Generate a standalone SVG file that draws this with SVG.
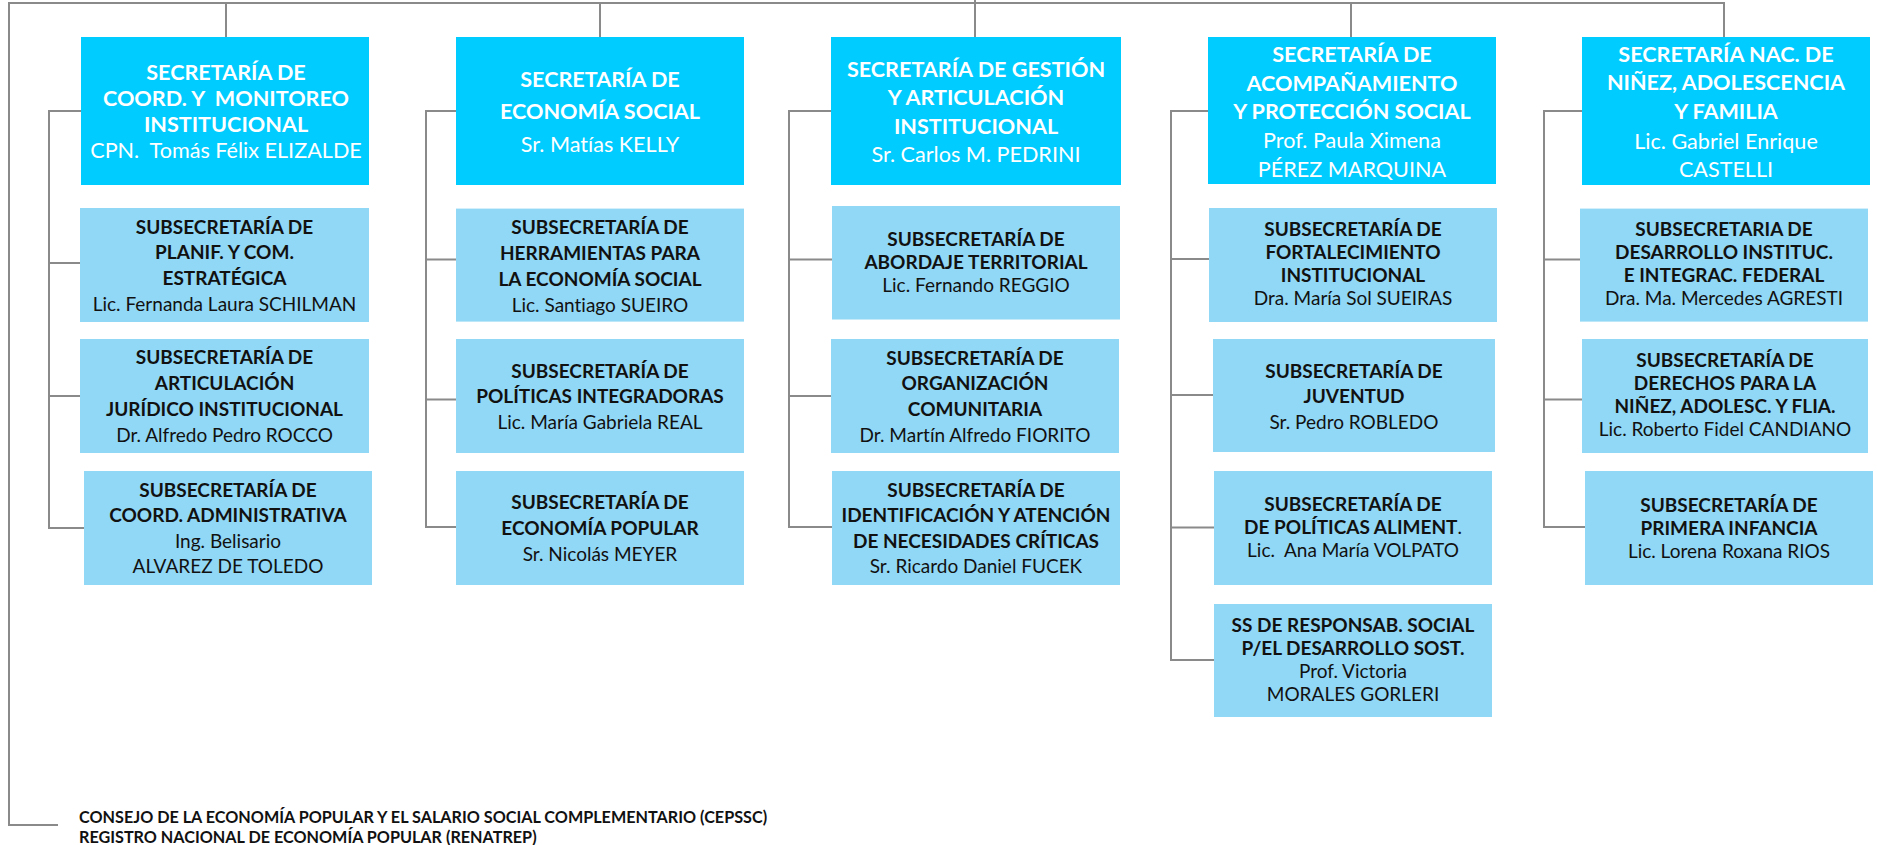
<svg xmlns="http://www.w3.org/2000/svg" width="1877" height="845" viewBox="0 0 1877 845">
<style>
  .bg{fill:#ffffff}
  .sec rect{fill:#00CCFF}
  .sub rect{fill:#91D8F6}
  text{font-family:Lato,"Liberation Sans",sans-serif;text-anchor:middle;white-space:pre;font-variant-ligatures:none;font-feature-settings:"liga" 0,"clig" 0}
  .sec text{fill:#ffffff;font-size:21.6px}
  .sub text{fill:#111111;font-size:19px}
  .b{font-weight:bold}
  .n{font-weight:normal}
  .conn path{fill:none;stroke:#8a8a8a;stroke-width:2}
  .foot text{fill:#111111;font-size:16.2px;font-weight:bold;text-anchor:start}
</style>
<rect class="bg" x="0" y="0" width="1877" height="845"/>

<g id="connectors" class="conn">
  <path d="M58 825 H9 V3 H1724 V37"/>
  <path d="M975 0 V37"/>
  <path d="M226 3 V37"/>
  <path d="M600 3 V37"/>
  <path d="M1351 3 V37"/>
  <path d="M81 111 H49 V528 H84 M49 263 H80 M49 396 H80"/>
  <path d="M456 111 H426 V527 H456 M426 259.5 H456 M426 399.5 H456"/>
  <path d="M831 111 H789 V527 H832 M789 259.5 H832 M789 396 H831"/>
  <path d="M1208 111 H1171 V660 H1214 M1171 259 H1209 M1171 395 H1213 M1171 527.5 H1214"/>
  <path d="M1582 111 H1544 V527 H1585 M1544 259.5 H1580 M1544 399.5 H1582"/>
</g>

<!-- Column 1 -->
<g id="sec-coord" class="sec">
  <rect x="81" y="37" width="288" height="148"/>
  <text x="226" y="80" class="b">SECRETARÍA DE</text>
  <text x="226" y="106" class="b">COORD. Y  MONITOREO</text>
  <text x="226" y="132" class="b">INSTITUCIONAL</text>
  <text x="226" y="158" class="n">CPN.  Tomás Félix ELIZALDE</text>
</g>
<g id="sub-planif" class="sub">
  <rect x="80" y="208" width="289" height="114"/>
  <text x="224.5" y="233.5" class="b">SUBSECRETARÍA DE</text>
  <text x="224.5" y="259.3" class="b">PLANIF. Y COM.</text>
  <text x="224.5" y="285" class="b">ESTRATÉGICA</text>
  <text x="224.5" y="311" class="n">Lic. Fernanda Laura SCHILMAN</text>
</g>
<g id="sub-articulacion" class="sub">
  <rect x="80" y="339" width="289" height="114"/>
  <text x="224.5" y="364" class="b">SUBSECRETARÍA DE</text>
  <text x="224.5" y="390" class="b">ARTICULACIÓN</text>
  <text x="224.5" y="416" class="b">JURÍDICO INSTITUCIONAL</text>
  <text x="224.5" y="442" class="n">Dr. Alfredo Pedro ROCCO</text>
</g>
<g id="sub-coord-adm" class="sub">
  <rect x="84" y="471" width="288" height="114"/>
  <text x="228" y="497" class="b">SUBSECRETARÍA DE</text>
  <text x="228" y="522" class="b">COORD. ADMINISTRATIVA</text>
  <text x="228" y="548" class="n">Ing. Belisario</text>
  <text x="228" y="573" class="n">ALVAREZ DE TOLEDO</text>
</g>

<!-- Column 2 -->
<g id="sec-economia" class="sec">
  <rect x="456" y="37" width="288" height="148"/>
  <text x="600" y="87" class="b">SECRETARÍA DE</text>
  <text x="600" y="119" class="b">ECONOMÍA SOCIAL</text>
  <text x="600" y="151.7" class="n">Sr. Matías KELLY</text>
</g>
<g id="sub-herramientas" class="sub">
  <rect x="456" y="208.6" width="288" height="113"/>
  <text x="600" y="234" class="b">SUBSECRETARÍA DE</text>
  <text x="600" y="260" class="b">HERRAMIENTAS PARA</text>
  <text x="600" y="285.5" class="b">LA ECONOMÍA SOCIAL</text>
  <text x="600" y="311.5" class="n">Lic. Santiago SUEIRO</text>
</g>
<g id="sub-politicas" class="sub">
  <rect x="456" y="339" width="288" height="114"/>
  <text x="600" y="378" class="b">SUBSECRETARÍA DE</text>
  <text x="600" y="403" class="b">POLÍTICAS INTEGRADORAS</text>
  <text x="600" y="429" class="n">Lic. María Gabriela REAL</text>
</g>
<g id="sub-eco-popular" class="sub">
  <rect x="456" y="471" width="288" height="114"/>
  <text x="600" y="509" class="b">SUBSECRETARÍA DE</text>
  <text x="600" y="535" class="b">ECONOMÍA POPULAR</text>
  <text x="600" y="561" class="n">Sr. Nicolás MEYER</text>
</g>

<!-- Column 3 -->
<g id="sec-gestion" class="sec">
  <rect x="831" y="37" width="290" height="148"/>
  <text x="976" y="76.7" class="b">SECRETARÍA DE GESTIÓN</text>
  <text x="976" y="104.7" class="b">Y ARTICULACIÓN</text>
  <text x="976" y="133.7" class="b">INSTITUCIONAL</text>
  <text x="976" y="162.3" class="n">Sr. Carlos M. PEDRINI</text>
</g>
<g id="sub-abordaje" class="sub">
  <rect x="832" y="206" width="288" height="113.5"/>
  <text x="976" y="246.4" class="b">SUBSECRETARÍA DE</text>
  <text x="976" y="269.3" class="b">ABORDAJE TERRITORIAL</text>
  <text x="976" y="292.3" class="n">Lic. Fernando REGGIO</text>
</g>
<g id="sub-organizacion" class="sub">
  <rect x="831" y="339" width="288" height="114"/>
  <text x="975" y="365.4" class="b">SUBSECRETARÍA DE</text>
  <text x="975" y="389.8" class="b">ORGANIZACIÓN</text>
  <text x="975" y="416.3" class="b">COMUNITARIA</text>
  <text x="975" y="442.3" class="n">Dr. Martín Alfredo FIORITO</text>
</g>
<g id="sub-identificacion" class="sub">
  <rect x="832" y="471" width="288" height="114"/>
  <text x="976" y="496.8" class="b">SUBSECRETARÍA DE</text>
  <text x="976" y="521.8" class="b">IDENTIFICACIÓN Y ATENCIÓN</text>
  <text x="976" y="547.5" class="b">DE NECESIDADES CRÍTICAS</text>
  <text x="976" y="572.8" class="n">Sr. Ricardo Daniel FUCEK</text>
</g>

<!-- Column 4 -->
<g id="sec-acompanamiento" class="sec">
  <rect x="1208" y="37" width="288" height="147"/>
  <text x="1352" y="62.2" class="b">SECRETARÍA DE</text>
  <text x="1352" y="90.7" class="b">ACOMPAÑAMIENTO</text>
  <text x="1352" y="119.3" class="b">Y PROTECCIÓN SOCIAL</text>
  <text x="1352" y="147.7" class="n">Prof. Paula Ximena</text>
  <text x="1352" y="176.5" class="n">PÉREZ MARQUINA</text>
</g>
<g id="sub-fortalecimiento" class="sub">
  <rect x="1209" y="208" width="288" height="114"/>
  <text x="1353" y="235.8" class="b">SUBSECRETARÍA DE</text>
  <text x="1353" y="259.1" class="b">FORTALECIMIENTO</text>
  <text x="1353" y="282.4" class="b">INSTITUCIONAL</text>
  <text x="1353" y="304.8" class="n">Dra. María Sol SUEIRAS</text>
</g>
<g id="sub-juventud" class="sub">
  <rect x="1213" y="339" width="282" height="113"/>
  <text x="1354" y="378.3" class="b">SUBSECRETARÍA DE</text>
  <text x="1354" y="402.8" class="b">JUVENTUD</text>
  <text x="1354" y="428.6" class="n">Sr. Pedro ROBLEDO</text>
</g>
<g id="sub-alimentarias" class="sub">
  <rect x="1214" y="471" width="278" height="114"/>
  <text x="1353" y="510.8" class="b">SUBSECRETARÍA DE</text>
  <text x="1353" y="534.3"><tspan class="b">DE POLÍTICAS ALIMENT</tspan><tspan class="n">.</tspan></text>
  <text x="1353" y="557.1" class="n">Lic.  Ana María VOLPATO</text>
</g>
<g id="sub-responsabilidad" class="sub">
  <rect x="1214" y="604" width="278" height="113"/>
  <text x="1353" y="631.6" class="b">SS DE RESPONSAB. SOCIAL</text>
  <text x="1353" y="654.8" class="b">P/EL DESARROLLO SOST.</text>
  <text x="1353" y="677.8" class="n">Prof. Victoria</text>
  <text x="1353" y="700.8" class="n">MORALES GORLERI</text>
</g>

<!-- Column 5 -->
<g id="sec-ninez" class="sec">
  <rect x="1582" y="37" width="288" height="148"/>
  <text x="1726" y="62.4" class="b">SECRETARÍA NAC. DE</text>
  <text x="1726" y="90.4" class="b">NIÑEZ, ADOLESCENCIA</text>
  <text x="1726" y="119.4" class="b">Y FAMILIA</text>
  <text x="1726" y="148.5" class="n">Lic. Gabriel Enrique</text>
  <text x="1726" y="177.2" class="n">CASTELLI</text>
</g>
<g id="sub-desarrollo" class="sub">
  <rect x="1580" y="208.6" width="288" height="113"/>
  <text x="1724" y="236.4" class="b">SUBSECRETARIA DE</text>
  <text x="1724" y="259.4" class="b">DESARROLLO INSTITUC.</text>
  <text x="1724" y="282.3" class="b">E INTEGRAC. FEDERAL</text>
  <text x="1724" y="305.3" class="n">Dra. Ma. Mercedes AGRESTI</text>
</g>
<g id="sub-derechos" class="sub">
  <rect x="1582" y="339" width="286" height="114"/>
  <text x="1725" y="367.3" class="b">SUBSECRETARÍA DE</text>
  <text x="1725" y="390.3" class="b">DERECHOS PARA LA</text>
  <text x="1725" y="413.2" class="b">NIÑEZ, ADOLESC. Y FLIA.</text>
  <text x="1725" y="436.2" class="n">Lic. Roberto Fidel CANDIANO</text>
</g>
<g id="sub-primera-infancia" class="sub">
  <rect x="1585" y="471" width="288" height="114"/>
  <text x="1729" y="511.8" class="b">SUBSECRETARÍA DE</text>
  <text x="1729" y="534.8" class="b">PRIMERA INFANCIA</text>
  <text x="1729" y="557.8" class="n">Lic. Lorena Roxana RIOS</text>
</g>

<g id="footer" class="foot">
  <text x="79" y="823">CONSEJO DE LA ECONOMÍA POPULAR Y EL SALARIO SOCIAL COMPLEMENTARIO (CEPSSC)</text>
  <text x="79" y="843">REGISTRO NACIONAL DE ECONOMÍA POPULAR (RENATREP)</text>
</g>
</svg>
